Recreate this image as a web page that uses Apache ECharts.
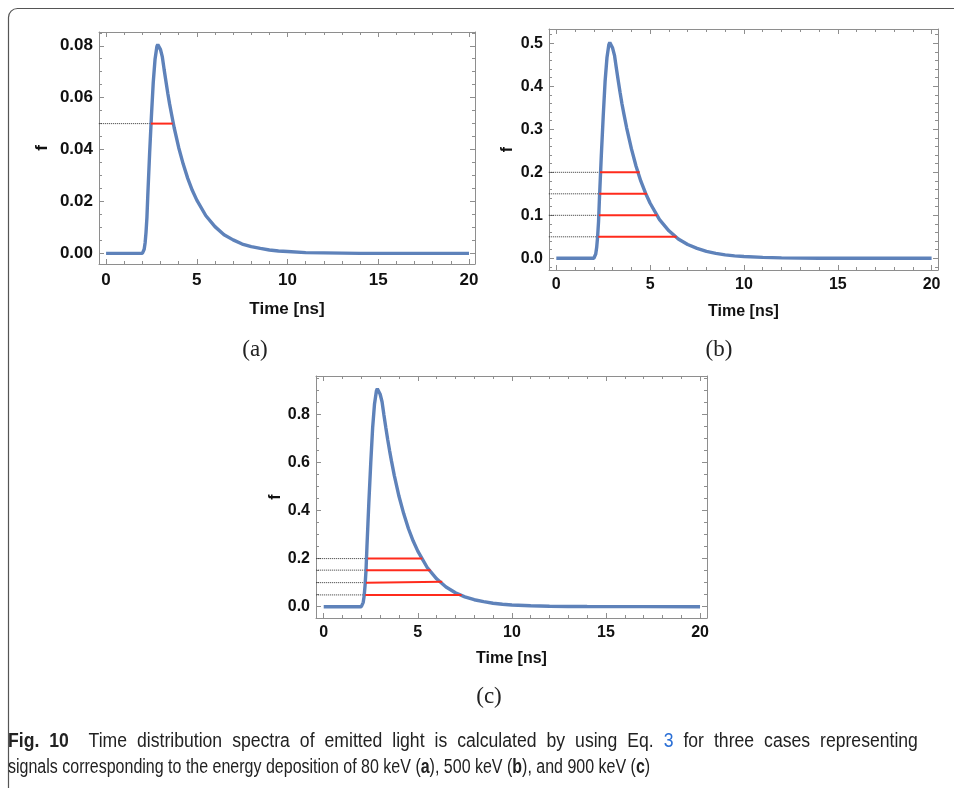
<!DOCTYPE html>
<html>
<head>
<meta charset="utf-8">
<script src="https://cdn.jsdelivr.net/npm/echarts@6/dist/echarts.min.js"></script>
<style>
  html, body { margin: 0; padding: 0; background: #fff; }
  #wrap { position: relative; width: 954px; height: 788px; overflow: hidden; }
  #main { width: 954px; height: 788px; }
  .cap {
    position: absolute; left: 8px; white-space: nowrap;
    font-family: "Liberation Sans", Arial, sans-serif; font-size: 20px; color: #222;
    transform: scaleX(0.8); transform-origin: left center; line-height: 24px;
  }
  #cap1 { top: 728px; width: 1034px; transform: scaleX(0.88); text-align: justify; text-align-last: justify; white-space: normal; }
  #cap2 { top: 754px; }
  .cap b { font-weight: bold; }
  .cap .lnk { color: #2a6fd6; }
</style>
</head>
<body>
<div id="wrap">
  <div id="main"></div>
  <div class="cap" id="cap1"><b>Fig. 10</b>&nbsp; Time distribution spectra of emitted light is calculated by using Eq. <span class="lnk">3</span> for three cases representing</div>
  <div class="cap" id="cap2">signals corresponding to the energy deposition of 80 keV (<b>a</b>), 500 keV (<b>b</b>), and 900 keV (<b>c</b>)</div>
</div>
<script>
// time axis of the three curves (ns)
var timeNs = [0, 1, 2, 2.05, 2.1, 2.15, 2.2, 2.25, 2.3, 2.35, 2.4, 2.5, 2.6, 2.7, 2.8, 2.85, 2.9, 3.0, 3.1, 3.2,
    3.3, 3.4, 3.5, 3.6, 3.75, 4.0, 4.25, 4.5, 4.75, 5.0, 5.5, 6.0, 6.5, 7.0, 7.5, 8.0, 8.5, 9.0, 9.5, 10,
    11, 12, 13, 14, 15, 17, 20];

// f values
var fA = [0, 0, 0, 0.0004, 0.0016, 0.004, 0.008, 0.0137, 0.0225, 0.0306, 0.0386, 0.0531, 0.066, 0.0749, 0.0797, 0.0805, 0.0801, 0.0785, 0.0757, 0.0708,
    0.0662, 0.0617, 0.0576, 0.0539, 0.0485, 0.0408, 0.0344, 0.0289, 0.0243, 0.0205, 0.0145, 0.0103, 0.0072, 0.0052, 0.0036, 0.0026, 0.0019, 0.0013, 0.0009, 0.0007,
    0.0003, 0.0002, 0.0001, 0, 0, 0, 0];
var fB = [0, 0, 0, 0.0025, 0.010, 0.025, 0.050, 0.085, 0.141, 0.191, 0.241, 0.331, 0.412, 0.467, 0.497, 0.502, 0.499, 0.489, 0.472, 0.442,
    0.413, 0.385, 0.359, 0.336, 0.303, 0.255, 0.214, 0.180, 0.152, 0.128, 0.090, 0.064, 0.045, 0.032, 0.023, 0.016, 0.0115, 0.008, 0.0057, 0.0041,
    0.0021, 0.001, 0.0005, 0.0003, 0.0001, 0, 0];
var fC = [0, 0, 0, 0.0045, 0.018, 0.045, 0.091, 0.154, 0.254, 0.344, 0.435, 0.598, 0.743, 0.843, 0.897, 0.906, 0.901, 0.883, 0.852, 0.797,
    0.745, 0.695, 0.649, 0.606, 0.546, 0.459, 0.387, 0.325, 0.274, 0.231, 0.163, 0.116, 0.082, 0.058, 0.041, 0.029, 0.021, 0.0145, 0.0103, 0.0073,
    0.0037, 0.0018, 0.0009, 0.0005, 0.0002, 0.0001, 0];

// red level lines: left / right ends (ns) and level at each end
var frameStart = -0.4;
var levelA = [0.05];
var leftA = [2.47];
var rightA = [3.67];

var levelB = [0.2, 0.15, 0.1, 0.05];
var leftB = [2.33, 2.29, 2.27, 2.24];
var rightB = [4.44, 4.83, 5.37, 6.41];

var levelCL = [0.2, 0.152, 0.1, 0.049];
var levelCR = [0.2, 0.152, 0.104, 0.049];
var leftC = [2.34, 2.26, 2.25, 2.21];
var rightC = [5.24, 5.68, 6.30, 7.33];

// tick labels
var xMajor = [0, 5, 10, 15, 20];
var xMinor = [0, 1, 2, 3, 4, 5, 6, 7, 8, 9, 10, 11, 12, 13, 14, 15, 16, 17, 18, 19, 20];
var yMajorA = [0, 0.02, 0.04, 0.06, 0.08];
var yMinorA = [0, 0.005, 0.01, 0.015, 0.02, 0.025, 0.03, 0.035, 0.04, 0.045, 0.05, 0.055, 0.06, 0.065, 0.07, 0.075, 0.08, 0.085];
var yMajorB = [0, 0.1, 0.2, 0.3, 0.4, 0.5];
var yMinorB = [-0.02, 0, 0.02, 0.04, 0.06, 0.08, 0.1, 0.12, 0.14, 0.16, 0.18, 0.2, 0.22, 0.24, 0.26, 0.28, 0.3, 0.32, 0.34, 0.36, 0.38, 0.4, 0.42, 0.44, 0.46, 0.48, 0.5, 0.52];
var yMajorC = [0, 0.2, 0.4, 0.6, 0.8];
var yMinorC = [0, 0.05, 0.1, 0.15, 0.2, 0.25, 0.3, 0.35, 0.4, 0.45, 0.5, 0.55, 0.6, 0.65, 0.7, 0.75, 0.8, 0.85, 0.9, 0.95];

var frameColor = '#8e8e8e';
var blue = '#5e82ba';
var red = '#ff2b1c';
var labelFont = '"Liberation Sans", Arial, sans-serif';

function axisSet(grid, isX, min, max, major, minor, fmt, fs, name, nameGap, labelMargin) {
    var pos = isX ? ['bottom', 'top'] : ['left', 'right'];
    var out = [];
    pos.forEach(function (p, k) {
        var base = {
            type: 'value', gridIndex: grid, position: p, min: min, max: max,
            splitLine: { show: false }, axisPointer: { show: false }
        };
        var maj = Object.assign({}, base, {
            axisLine: { show: true, onZero: false, lineStyle: { color: frameColor, width: 1 } },
            axisTick: { show: true, inside: true, length: 5, customValues: major, lineStyle: { color: frameColor } },
            axisLabel: {
                show: k === 0, customValues: major, formatter: fmt, margin: labelMargin,
                fontFamily: labelFont, fontWeight: 'bold', fontSize: fs, color: '#111'
            }
        });
        if (k === 0) {
            maj.name = name;
            maj.nameLocation = 'middle';
            maj.nameGap = nameGap;
            if (!isX) maj.nameRotate = 90;
            maj.nameTextStyle = { fontFamily: labelFont, fontWeight: 'bold', fontSize: fs, color: '#111' };
        }
        var mnr = Object.assign({}, base, {
            axisLine: { show: false, onZero: false },
            axisTick: { show: true, inside: true, length: 3, customValues: minor, lineStyle: { color: frameColor } },
            axisLabel: { show: false }
        });
        out.push(maj, mnr);
    });
    return out;
}

function curve(grid, ys) {
    return {
        type: 'line', xAxisIndex: grid * 4, yAxisIndex: grid * 4, symbol: 'none', z: 3,
        lineStyle: { color: blue, width: 3.4 },
        data: timeNs.map(function (t, i) { return [t, ys[i]]; })
    };
}

function levelLines(grid, lvL, lvR, left, right) {
    var s = [];
    lvL.forEach(function (lv, i) {
        s.push({
            type: 'line', xAxisIndex: grid * 4, yAxisIndex: grid * 4, symbol: 'none', z: 2,
            lineStyle: { color: '#333', width: 1, type: [1, 1] },
            data: [[frameStart, lv], [left[i], lv]]
        });
        s.push({
            type: 'line', xAxisIndex: grid * 4, yAxisIndex: grid * 4, symbol: 'none', z: 4,
            lineStyle: { color: red, width: 2 },
            data: [[left[i], lv], [right[i], lvR[i]]]
        });
    });
    return s;
}

var f2 = function (v) { return v.toFixed(2); };
var f1 = function (v) { return v.toFixed(1); };
var f0 = function (v) { return String(v); };

var xAxes = [].concat(
    axisSet(0, true, -0.39, 20.33, xMajor, xMinor, f0, 17, 'Time [ns]', 37, 8),
    axisSet(1, true, -0.39, 20.34, xMajor, xMinor, f0, 16, 'Time [ns]', 34, 7),
    axisSet(2, true, -0.41, 20.37, xMajor, xMinor, f0, 16, 'Time [ns]', 33, 7)
);
var yAxes = [].concat(
    axisSet(0, false, -0.0041, 0.0853, yMajorA, yMinorA, f2, 17, 'f', 48, 6),
    axisSet(1, false, -0.0272, 0.5333, yMajorB, yMinorB, f1, 16, 'f', 33, 6),
    axisSet(2, false, -0.047, 0.959, yMajorC, yMinorC, f1, 16, 'f', 32, 6)
);

var series = [].concat(
    [curve(0, fA)], levelLines(0, levelA, levelA, leftA, rightA),
    [curve(1, fB)], levelLines(1, levelB, levelB, leftB, rightB),
    [curve(2, fC)], levelLines(2, levelCL, levelCR, leftC, rightC)
);

var serif = '"Liberation Serif", "DejaVu Serif", serif';

var chart = echarts.init(document.getElementById('main'));
var option = {
    animation: false,
    backgroundColor: '#fff',
    grid: [
        { left: 99, top: 32, width: 376, height: 232 },
        { left: 549, top: 29, width: 389, height: 241 },
        { left: 316, top: 376, width: 391, height: 242 }
    ],
    xAxis: xAxes,
    yAxis: yAxes,
    series: series,
    graphic: [
        {
            type: 'rect', silent: true,
            shape: { x: 8.5, y: 8.5, width: 1200, height: 1200, r: 9 },
            style: { fill: 'none', stroke: '#555', lineWidth: 1.2 }
        },
        { type: 'text', x: 255, y: 350, style: { text: '(a)', font: '23px ' + serif, fill: '#222', align: 'center', verticalAlign: 'middle' } },
        { type: 'text', x: 719, y: 350, style: { text: '(b)', font: '23px ' + serif, fill: '#222', align: 'center', verticalAlign: 'middle' } },
        { type: 'text', x: 489, y: 697, style: { text: '(c)', font: '23px ' + serif, fill: '#222', align: 'center', verticalAlign: 'middle' } }
    ]
};
chart.setOption(option);
</script>
</body>
</html>
